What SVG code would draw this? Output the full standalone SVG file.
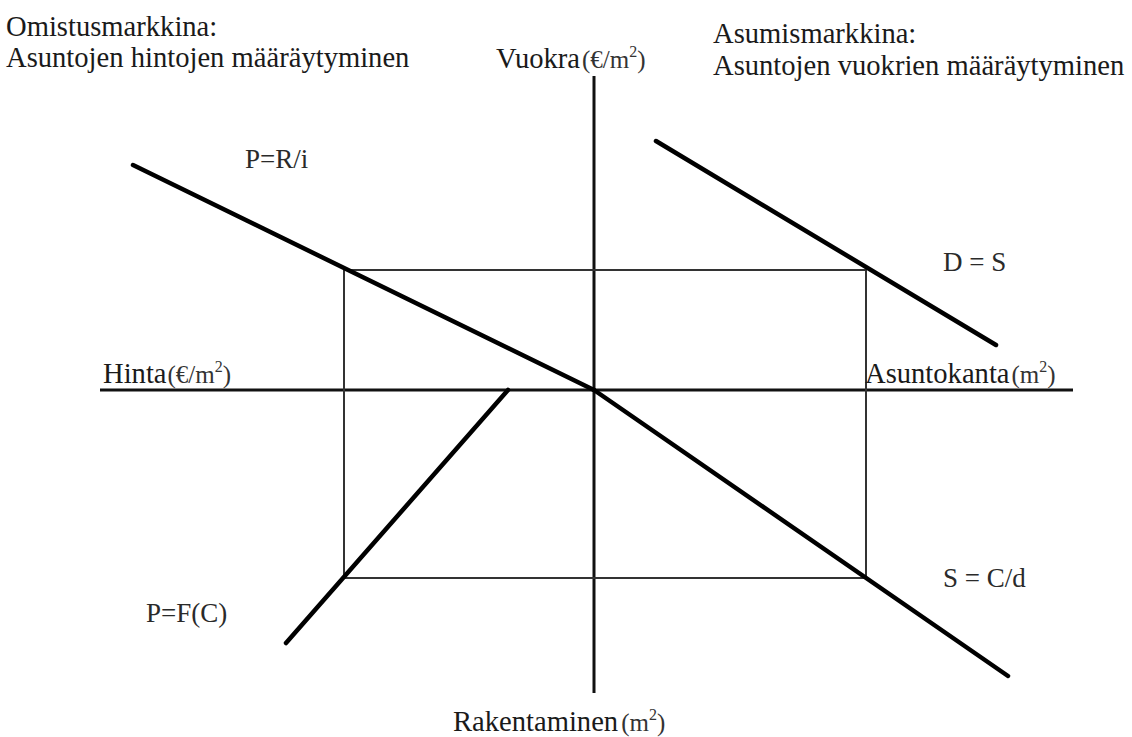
<svg xmlns="http://www.w3.org/2000/svg" width="1132" height="737" viewBox="0 0 1132 737">
<style>
text{font-family:"Liberation Serif","Times New Roman",serif}
.h{font-size:28.6px;fill:#1a1a1a}
.l{font-size:27px;fill:#2a2a2a}
.p{font-size:25px;fill:#333}
.s{font-size:16px;fill:#333}
.axis{stroke:#111;stroke-width:3;fill:none}
.box{stroke:#333;stroke-width:2;fill:none}
.curve{stroke:#000;stroke-width:4.5;fill:none;stroke-linecap:round}
</style>
<rect width="1132" height="737" fill="#fff"/>
<g id="connectors">
<g id="axes">
<line class="axis" x1="594" y1="76" x2="594" y2="693"/>
<line class="axis" x1="100" y1="390" x2="1073" y2="390"/>
</g>
<rect id="equilibrium-box" class="box" x="344" y="270" width="522" height="308"/>
<line id="curve-PRi" class="curve" x1="133" y1="165" x2="594" y2="390"/>
<line id="curve-DS" class="curve" x1="656" y1="141" x2="996" y2="345"/>
<line id="curve-SCd" class="curve" x1="594" y1="390" x2="1008" y2="676"/>
<line id="curve-PFC" class="curve" x1="508" y1="390" x2="286" y2="643"/>
</g>
<g id="title-left">
<text class="h" x="6" y="36">Omistusmarkkina:</text>
<text class="h" x="6" y="67">Asuntojen hintojen määräytyminen</text>
</g>
<g id="title-right">
<text class="h" x="713" y="43">Asumismarkkina:</text>
<text class="h" x="713" y="75">Asuntojen vuokrien määräytyminen</text>
</g>
<g id="label-vuokra">
<text x="496" y="68"><tspan class="h">Vuokra</tspan><tspan class="p" dx="2">(€/m</tspan><tspan class="s" dy="-11">2</tspan><tspan class="p" dy="11">)</tspan></text>
</g>
<g id="label-hinta">
<text x="103" y="383"><tspan class="h">Hinta</tspan><tspan class="p" dx="1">(€/m</tspan><tspan class="s" dy="-11">2</tspan><tspan class="p" dy="11">)</tspan></text>
</g>
<g id="label-asuntokanta">
<text x="865" y="383"><tspan class="h">Asuntokanta</tspan><tspan class="p" dx="2">(m</tspan><tspan class="s" dy="-11">2</tspan><tspan class="p" dy="11">)</tspan></text>
</g>
<g id="label-rakentaminen">
<text x="453" y="731"><tspan class="h">Rakentaminen</tspan><tspan class="p" dx="3">(m</tspan><tspan class="s" dy="-11">2</tspan><tspan class="p" dy="11">)</tspan></text>
</g>
<g id="label-PRi"><text class="l" x="245" y="168">P=R/i</text></g>
<g id="label-DS"><text class="l" x="943" y="271">D = S</text></g>
<g id="label-SCd"><text class="l" x="943" y="587">S = C/d</text></g>
<g id="label-PFC"><text class="l" x="146" y="622">P=F(C)</text></g>
</svg>
